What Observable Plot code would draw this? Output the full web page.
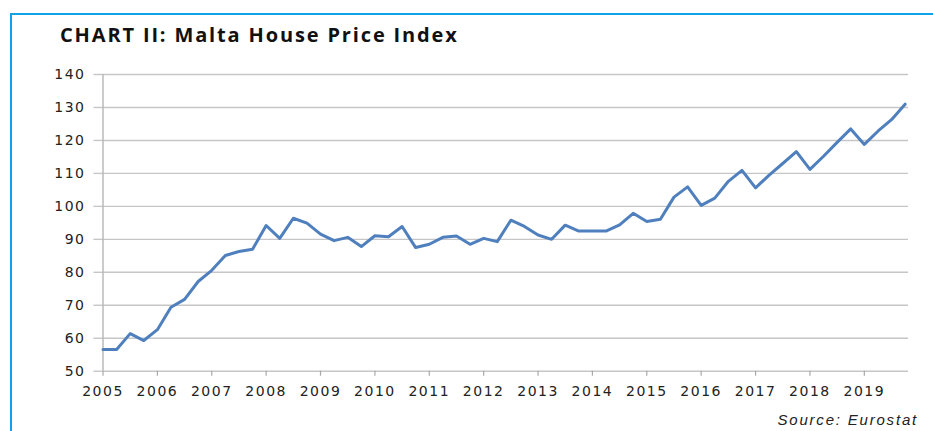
<!DOCTYPE html>
<html>
<head>
<meta charset="utf-8">
<script src="https://cdn.jsdelivr.net/npm/d3@7"></script>
<script src="https://cdn.jsdelivr.net/npm/@observablehq/plot@0.6"></script>
<style>
  html, body { margin: 0; padding: 0; background: #fff; }
  #wrap { position: relative; width: 933px; height: 431px; overflow: hidden; background: #fff; }
  #frame { position: absolute; left: 10px; top: 13px; right: -5px; bottom: -5px;
           border-top: 2px solid #0ea2e6; border-left: 2px solid #0ea2e6; }
  #title { position: absolute; left: 60px; top: 21px; font-family: "Open Sans", sans-serif;
           font-weight: 700; font-size: 20px; color: #111; white-space: nowrap; letter-spacing: 1.85px; }
  #chart { position: absolute; left: 0; top: 60px; }
  #source { position: absolute; right: 15px; top: 411px; font-family: "Liberation Sans", Arial, sans-serif;
            font-style: italic; font-size: 15px; letter-spacing: 1.8px; color: #222; white-space: nowrap; }
</style>
</head>
<body>
<div id="wrap">
  <div id="frame"></div>
  <div id="title">CHART II: Malta House Price Index</div>
  <div id="chart"></div>
  <div id="source">Source: Eurostat</div>
</div>
<script>
// Tick labels (years) and quarters
const years = [2005, 2006, 2007, 2008, 2009, 2010, 2011, 2012, 2013, 2014, 2015, 2016, 2017, 2018, 2019];
const quarters = [1, 2, 3, 4];
// Quarterly Malta House Price Index values, 2005Q1 .. 2019Q4
const hpi = [
  56.6, 56.6, 61.4, 59.3,
  62.6, 69.4, 71.8, 77.2,
  80.6, 85.1, 86.3, 87.0,
  94.2, 90.3, 96.4, 94.9,
  91.6, 89.6, 90.6, 87.8,
  91.1, 90.8, 93.9, 87.5,
  88.5, 90.6, 91.0, 88.5,
  90.3, 89.3, 95.8, 93.9,
  91.3, 90.0, 94.3, 92.5,
  92.5, 92.5, 94.4, 97.9,
  95.4, 96.1, 102.8, 105.9,
  100.3, 102.5, 107.6, 110.9,
  105.6, 109.5, 113.0, 116.6,
  111.2, 115.2, 119.4, 123.5,
  118.8, 122.8, 126.3, 131.0
];
const yTicks = [50, 60, 70, 80, 90, 100, 110, 120, 130, 140];

const periods = years.flatMap(y => quarters.map(q => ({year: y, q})));
const data = periods.map((p, i) => ({t: p.year + (p.q - 1) / 4, v: hpi[i]}));

const chart = Plot.plot({
  width: 933,
  height: 350,
  marginTop: 14,
  marginBottom: 39.3,
  marginLeft: 102.5,
  marginRight: 25,
  style: {fontFamily: "DejaVu Sans, sans-serif", fontSize: "14px", letterSpacing: "1.5px", color: "#222", background: "transparent"},
  x: {domain: [2005, 2019.8125]},
  y: {domain: [50, 140]},
  marks: [
    Plot.gridY(yTicks, {stroke: "#c6c6c6", strokeOpacity: 1, strokeWidth: 1.4}),
    Plot.axisY(yTicks, {tickSize: 9, tickPadding: 8.5, stroke: "#c6c6c6", strokeWidth: 1.4, label: null, fill: "#222"}),
    Plot.ruleX([2005], {y1: 50, y2: 140, stroke: "#b5b5b5", strokeWidth: 1.4}),
    Plot.axisX(years, {tickSize: 5, tickPadding: 10, stroke: "#a8a8a8", strokeWidth: 1.2, tickFormat: d => String(d), label: null, fill: "#222"}),
    Plot.lineY(data, {x: "t", y: "v", stroke: "#4f80bd", strokeWidth: 3, strokeLinejoin: "round"})
  ]
});
document.getElementById("chart").appendChild(chart);
</script>
</body>
</html>
